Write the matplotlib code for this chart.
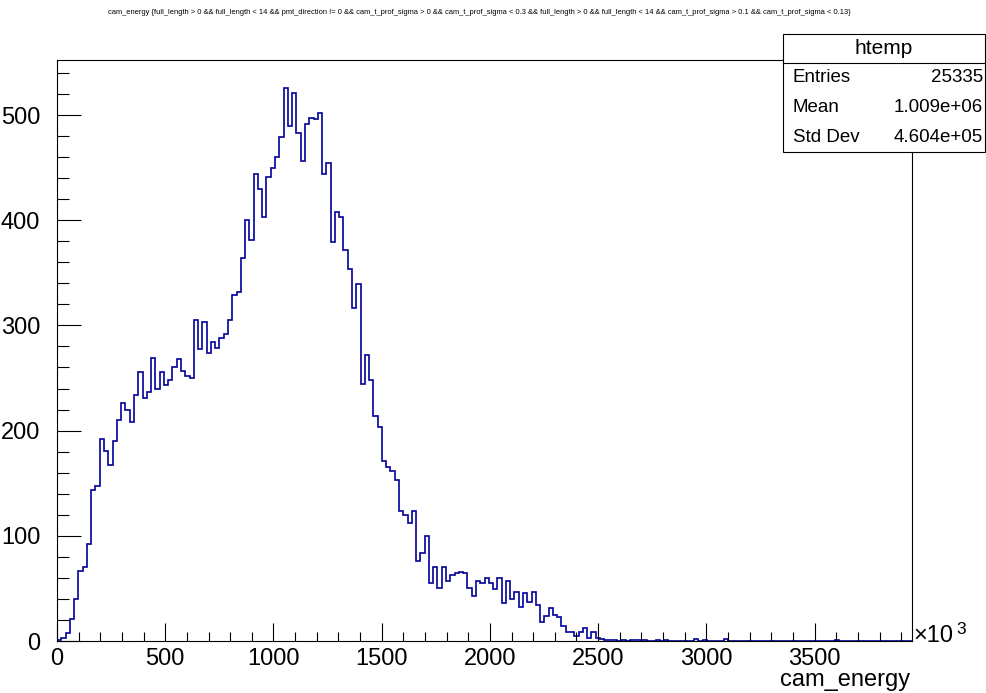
import numpy as np
import matplotlib
matplotlib.use("Agg")
import matplotlib.pyplot as plt
from matplotlib.patches import Rectangle
from matplotlib.lines import Line2D
from matplotlib.ticker import MultipleLocator, FuncFormatter

plt.rcParams['font.family'] = ['Liberation Sans', 'DejaVu Sans']

# histogram binning (cam_energy, 200 bins)
x_min = 0.0
x_max = 3.95e6
n_bins = 200

# bin contents
counts = [
    1, 3, 8, 21, 40, 67, 70, 92, 144, 147,
    192, 181, 167, 190, 210, 226, 220, 208, 234, 256,
    231, 237, 269, 240, 256, 243, 248, 260, 268, 257,
    252, 250, 305, 278, 303, 274, 284, 279, 288, 292,
    305, 329, 332, 364, 400, 381, 444, 430, 403, 441,
    450, 460, 479, 526, 490, 521, 483, 456, 491, 497,
    496, 502, 444, 454, 379, 408, 403, 372, 354, 317,
    339, 244, 272, 248, 214, 203, 171, 165, 162, 153,
    124, 120, 112, 124, 76, 84, 100, 55, 70, 50,
    70, 57, 63, 65, 66, 65, 50, 43, 57, 55,
    60, 55, 49, 60, 36, 57, 40, 47, 32, 46,
    37, 47, 34, 18, 24, 31, 25, 23, 14, 9,
    9, 5, 9, 12, 3, 9, 3, 2, 1, 1,
    1, 0, 1, 0, 1, 1, 1, 1, 0, 0,
    1, 0, 1, 0, 0, 0, 0, 0, 0, 2,
    0, 1, 0, 0, 0, 0, 2, 0, 0, 0,
    0, 0, 0, 0, 0, 0, 0, 0, 0, 0,
    0, 0, 0, 0, 0, 0, 0, 0, 0, 0,
    0, 0, 1, 0, 0, 0, 0, 0, 0, 0,
    0, 0, 0, 0, 0, 0, 0, 0, 0, 0,
]

hist_name = "htemp"
stat_names = ["Entries", "Mean", "Std Dev"]
stat_values = ["25335", "1.009e+06", "4.604e+05"]

title = ("cam_energy {full_length > 0 && full_length < 14 && pmt_direction != 0 && "
         "cam_t_prof_sigma > 0 && cam_t_prof_sigma < 0.3 && full_length > 0 && "
         "full_length < 14 && cam_t_prof_sigma > 0.1 && cam_t_prof_sigma < 0.13}")
x_title = "cam_energy"

W, H = 986, 693
fig = plt.figure(figsize=(W / 100, H / 100), dpi=100)
ax = fig.add_axes([57 / W, 52 / H, 855 / W, 581 / H])

edges = np.linspace(x_min, x_max, n_bins + 1)
ax.stairs(counts, edges, color='#000099', linewidth=1.2, baseline=0)

ax.set_xlim(x_min, x_max)
ax.set_ylim(0, 1.05 * max(counts))

ax.xaxis.set_major_locator(MultipleLocator(5e5))
ax.xaxis.set_minor_locator(MultipleLocator(1e5))
ax.xaxis.set_major_formatter(FuncFormatter(lambda v, p: f"{v / 1e3:.0f}"))
ax.yaxis.set_major_locator(MultipleLocator(100))
ax.yaxis.set_minor_locator(MultipleLocator(20))

ax.tick_params(axis='both', which='both', direction='in', top=False, right=False,
               width=0.8, colors='black', labelsize=17)
ax.tick_params(axis='x', which='major', length=13, pad=5)
ax.tick_params(axis='x', which='minor', length=6.5)
ax.tick_params(axis='y', which='major', length=17, pad=12)
ax.tick_params(axis='y', which='minor', length=8.5)
for s in ax.spines.values():
    s.set_linewidth(0.8)

# axis title, right aligned like ROOT
fig.text(910 / W, 1 - 680 / H, x_title, ha='right', va='center', fontsize=17)
# exponent of the x axis
fig.text(913 / W, 1 - 636 / H, "\u00d710", ha='left', va='center', fontsize=17)
fig.text(956 / W, 1 - 629 / H, "3", ha='left', va='center', fontsize=12.5)

# histogram title
fig.text(479 / W, 1 - 12 / H, title, ha='center', va='center', fontsize=5.4)

# stats box
bx0, bx1, by0, by1, bsep = 783, 985, 34, 152, 63
fig.add_artist(Rectangle((bx0 / W, 1 - by1 / H), (bx1 - bx0) / W, (by1 - by0) / H,
                         transform=fig.transFigure, facecolor='white',
                         edgecolor='black', linewidth=0.8, zorder=5))
fig.add_artist(Line2D([bx0 / W, bx1 / W], [1 - bsep / H, 1 - bsep / H],
                      transform=fig.transFigure, color='black', linewidth=0.8, zorder=6))
fig.text((bx0 + bx1) / 2 / W, 1 - 48 / H, hist_name, ha='center', va='center',
         fontsize=15, zorder=7)
for i, (n, v) in enumerate(zip(stat_names, stat_values)):
    yy = 1 - (78 + 30 * i) / H
    fig.text(793 / W, yy, n, ha='left', va='center', fontsize=13.5, zorder=7)
    fig.text(983 / W, yy, v, ha='right', va='center', fontsize=13.5, zorder=7)

fig.savefig("out.png", dpi=100, facecolor='white')
